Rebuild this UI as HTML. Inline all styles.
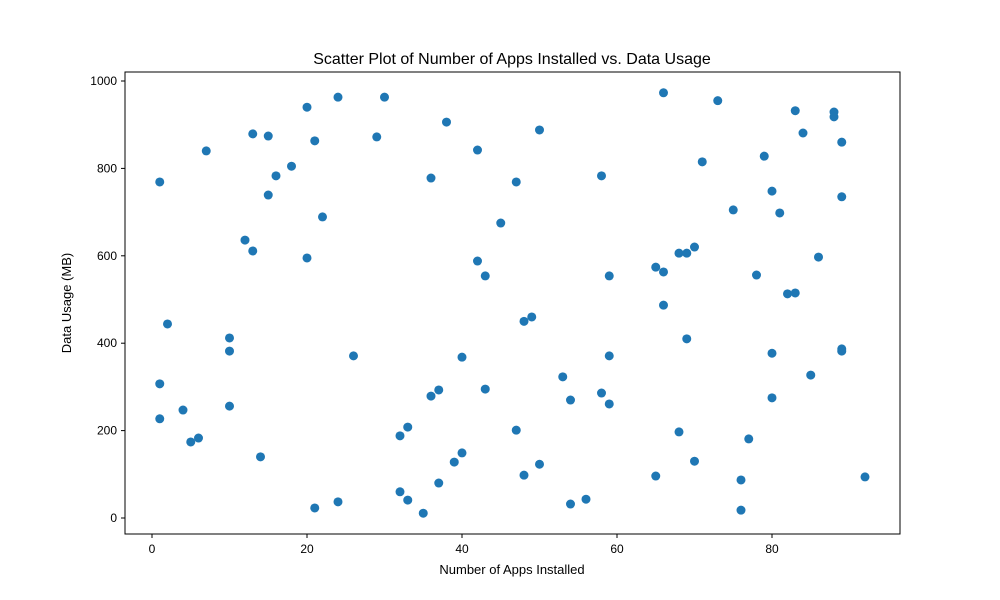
<!DOCTYPE html>
<html><head><meta charset="utf-8"><style>body{margin:0;background:#fff}svg{display:block;font-family:"Liberation Sans","DejaVu Sans",sans-serif}</style></head>
<body>
<svg id="chart" width="1000" height="600">
<rect width="1000" height="600" fill="#fff"/>
<text x="512" y="64" font-size="16" text-anchor="middle">Scatter Plot of Number of Apps Installed vs. Data Usage</text>
<text x="512" y="574" font-size="13" text-anchor="middle">Number of Apps Installed</text>
<text x="71" y="303" font-size="13" text-anchor="middle" transform="rotate(-90 71 303)">Data Usage (MB)</text>
<g id="ticks"></g><g id="points"></g>
<rect x="125" y="72" width="775" height="462" fill="none" stroke="#000" stroke-width="1"/>
</svg>
<script>
const appsInstalled=[1,2,1,1,4,5,6,7,10,10,10,12,13,13,14,15,15,16,18,20,20,21,21,22,24,24,26,29,30,32,32,33,33,35,36,36,37,37,38,39,40,40,42,42,43,43,45,47,47,48,48,49,50,50,53,54,54,56,58,58,59,59,59,65,65,66,66,66,68,68,69,69,70,70,71,73,75,76,76,77,78,79,80,80,80,81,82,83,83,84,85,86,88,88,89,89,89,89,92];
const dataUsage=[769,444,307,227,247,174,183,840,412,382,256,636,879,611,140,874,739,783,805,940,595,863,23,689,963,37,371,872,963,188,60,208,41,11,778,279,293,80,906,128,368,149,842,588,554,295,675,769,201,450,98,460,888,123,323,270,32,43,783,286,554,371,261,574,96,973,563,487,606,197,606,410,620,130,815,955,705,87,18,181,556,828,748,377,275,698,513,932,515,881,327,597,929,918,860,735,387,382,94];
const xTicks=[0,20,40,60,80];
const yTicks=[0,200,400,600,800,1000];
const NS="http://www.w3.org/2000/svg";
const xS=v=>152+v*7.75, yS=v=>518-v*0.437;
const tg=document.getElementById('ticks'), pg=document.getElementById('points');
function mk(t,a,p){const e=document.createElementNS(NS,t);for(const k in a)e.setAttribute(k,a[k]);p.appendChild(e);return e;}
xTicks.forEach(v=>{const x=xS(v);
 const l=mk('line',{x1:x,x2:x,y1:534,y2:538,stroke:'#000'},tg);
 
 
 const t=mk('text',{x:x,y:553,'font-size':12,'text-anchor':'middle'},tg);t.textContent=v;
 
 });
yTicks.forEach(v=>{const y=yS(v);
 const l=mk('line',{x1:121,x2:125,y1:y,y2:y,stroke:'#000'},tg);
 
 
 const t=mk('text',{x:117,y:y+4,'font-size':12,'text-anchor':'end'},tg);t.textContent=v;
 
 });
appsInstalled.forEach((a,i)=>{
 const c=mk('circle',{cx:xS(a),cy:yS(dataUsage[i]),r:4.5,fill:'#1f77b4'},pg);
 
 });
</script>
</body></html>
